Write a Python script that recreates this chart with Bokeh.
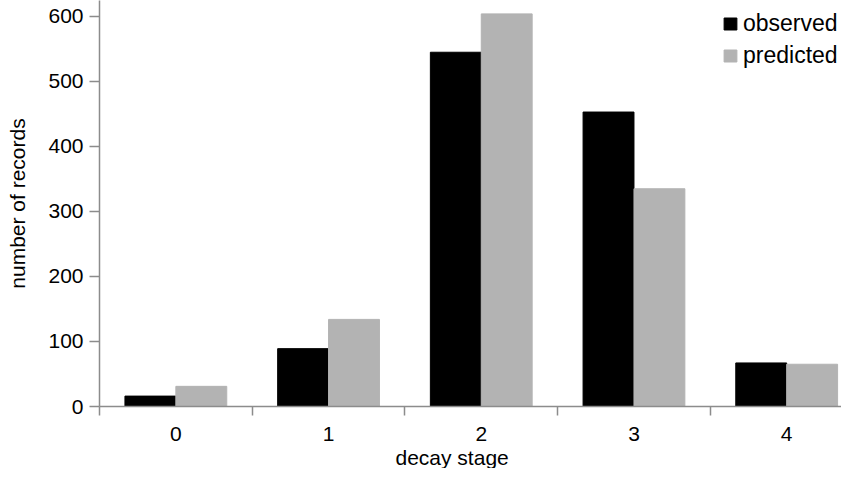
from bokeh.plotting import figure
from bokeh.models import (ColumnDataSource, Range1d, FixedTicker, Legend, LegendItem, Title)
from bokeh.transform import dodge
from bokeh.embed import file_html
from bokeh.resources import INLINE

stages = ["0", "1", "2", "3", "4"]
observed = [16, 89, 545, 453, 67]
predicted = [31, 134, 604, 335, 65]
y_ticks = [0, 100, 200, 300, 400, 500, 600]

FONT = "Liberation Sans"
AXIS_COLOR = "#8c8c8c"

xs = list(range(len(stages)))
src = ColumnDataSource(dict(x=xs, stage=stages, observed=observed, predicted=predicted))

p = figure(width=841, height=468, output_backend="svg", toolbar_location=None,
           x_range=Range1d(-0.5, 4.359), y_range=Range1d(0, 624.6),
           min_border_left=99, min_border_right=0, min_border_top=0, min_border_bottom=62)
p.outline_line_color = None
p.xgrid.visible = False
p.ygrid.visible = False

w = 1 / 3
r_obs = p.vbar(x=dodge("x", -w / 2, range=p.x_range), top="observed", width=w, source=src,
               fill_color="#000000", line_color="#000000", line_width=1)
r_pred = p.vbar(x=dodge("x", w / 2, range=p.x_range), top="predicted", width=w, source=src,
                fill_color="#b3b3b3", line_color="#b3b3b3", line_width=1)

# x axis
xa = p.xaxis[0]
xa.ticker = FixedTicker(ticks=xs, minor_ticks=[x - 0.5 for x in xs])
xa.major_label_overrides = {i: s for i, s in zip(xs, stages)}
xa.major_tick_out = 0
xa.major_tick_in = 0
xa.minor_tick_out = 9
xa.minor_tick_in = 0
xa.minor_tick_line_color = AXIS_COLOR
xa.minor_tick_line_width = 1.5
xa.axis_line_color = AXIS_COLOR
xa.axis_line_width = 1.5
xa.major_label_text_font = FONT
xa.major_label_text_font_size = "21px"
xa.major_label_text_color = "#000000"
xa.major_label_standoff = 11

# y axis
ya = p.yaxis[0]
ya.ticker = FixedTicker(ticks=y_ticks)
ya.major_tick_out = 10
ya.major_tick_in = 0
ya.minor_tick_out = 0
ya.minor_tick_in = 0
ya.major_tick_line_color = AXIS_COLOR
ya.major_tick_line_width = 1.5
ya.axis_line_color = AXIS_COLOR
ya.axis_line_width = 1.5
ya.major_label_text_font = FONT
ya.major_label_text_font_size = "21px"
ya.major_label_text_color = "#000000"
ya.major_label_standoff = 6
ya.axis_label = "number of records"
ya.axis_label_text_font = FONT
ya.axis_label_text_font_size = "21px"
ya.axis_label_text_font_style = "normal"
ya.axis_label_text_color = "#000000"
ya.axis_label_standoff = 16

# x axis title, placed below the tick labels
xt = Title(text="decay stage", align="left", offset=296, text_font=FONT,
           text_font_size="21px", text_font_style="normal", text_color="#000000", standoff=0)
p.add_layout(xt, "below")

legend = Legend(items=[LegendItem(label="observed", renderers=[r_obs]),
                       LegendItem(label="predicted", renderers=[r_pred])],
                location=(623, 337), orientation="vertical")
legend.border_line_color = None
legend.background_fill_alpha = 0
legend.label_text_font = FONT
legend.label_text_font_size = "23px"
legend.label_text_color = "#000000"
legend.glyph_width = 16
legend.glyph_height = 15
legend.label_standoff = 5
legend.spacing = 5
legend.padding = 0
legend.margin = 0
p.add_layout(legend)

open("out.html", "w").write(file_html(p, INLINE))
